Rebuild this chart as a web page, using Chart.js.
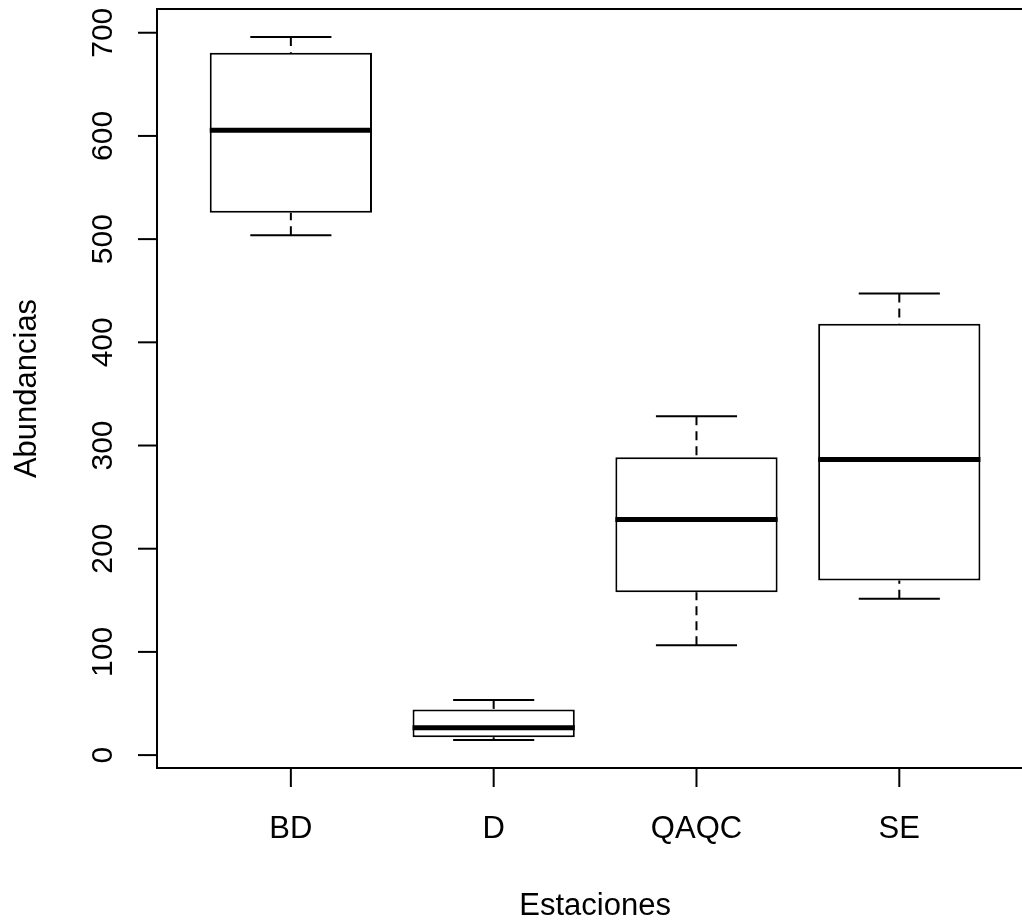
<!DOCTYPE html>
<html><head><meta charset="utf-8">
<script src="https://cdn.jsdelivr.net/npm/chart.js@4/dist/chart.umd.min.js"></script>
<style>html,body{margin:0;padding:0;background:#fff;overflow:hidden}canvas{display:block}</style>
</head><body>
<canvas id="c" width="1022" height="922"></canvas>
<script>
const categories = ['BD', 'D', 'QAQC', 'SE'];
const lowerWhisker = [503.8, 14.7, 106.4, 151.4];
const q1 = [525.5, 17.3, 157.8, 169.1];
const median = [605.6, 26.4, 228.3, 286.4];
const q3 = [680.6, 44.1, 288.6, 418.0];
const upperWhisker = [695.8, 53.5, 328.4, 447.3];
const yTicks = [0, 100, 200, 300, 400, 500, 600, 700];
const xTitle = 'Estaciones';
const yTitle = 'Abundancias';

const FONT_TICK = '30px "Liberation Sans", Arial, sans-serif';
const FONT_LAB = '31px "Liberation Sans", Arial, sans-serif';

const rPlot = {
  id: 'rPlot',
  afterDatasetsDraw(chart) {
    const ctx = chart.ctx, xs = chart.scales.x, ys = chart.scales.y;
    const meta = chart.getDatasetMeta(0);
    ctx.save();
    ctx.strokeStyle = '#000';
    ctx.lineCap = 'butt';
    meta.data.forEach((bar, i) => {
      const cx = xs.getPixelForValue(i + 1);
      const w = bar.width;
      ctx.lineWidth = 2;
      ctx.setLineDash([9, 6]);
      [[upperWhisker[i], q3[i]], [lowerWhisker[i], q1[i]]].forEach(([e, h]) => {
        ctx.beginPath();
        ctx.moveTo(cx, ys.getPixelForValue(e));
        ctx.lineTo(cx, ys.getPixelForValue(h));
        ctx.stroke();
      });
      ctx.setLineDash([]);
      [upperWhisker[i], lowerWhisker[i]].forEach(v => {
        const y = ys.getPixelForValue(v);
        ctx.beginPath();
        ctx.moveTo(cx - w / 4, y);
        ctx.lineTo(cx + w / 4, y);
        ctx.stroke();
      });
      ctx.lineWidth = 5;
      const my = ys.getPixelForValue(median[i]);
      ctx.beginPath();
      ctx.moveTo(cx - w / 2, my);
      ctx.lineTo(cx + w / 2, my);
      ctx.stroke();
    });
    ctx.restore();
  },
  afterDraw(chart) {
    const ctx = chart.ctx, xs = chart.scales.x, ys = chart.scales.y, a = chart.chartArea;
    ctx.save();
    ctx.strokeStyle = '#000';
    ctx.fillStyle = '#000';
    ctx.lineWidth = 2;
    ctx.beginPath();
    ctx.moveTo(a.right + 5, a.top);
    ctx.lineTo(a.left, a.top);
    ctx.lineTo(a.left, a.bottom);
    ctx.lineTo(a.right + 5, a.bottom);
    ctx.stroke();
    ctx.font = FONT_TICK;
    ctx.textAlign = 'center';
    ctx.textBaseline = 'alphabetic';
    yTicks.forEach(v => {
      const y = ys.getPixelForValue(v);
      ctx.beginPath();
      ctx.moveTo(a.left - 19, y);
      ctx.lineTo(a.left, y);
      ctx.stroke();
      ctx.save();
      ctx.translate(112, y);
      ctx.rotate(-Math.PI / 2);
      ctx.fillText(String(v), 0, 0);
      ctx.restore();
    });
    ctx.font = FONT_LAB;
    categories.forEach((c, i) => {
      const x = xs.getPixelForValue(i + 1);
      ctx.beginPath();
      ctx.moveTo(x, a.bottom);
      ctx.lineTo(x, a.bottom + 19);
      ctx.stroke();
      ctx.fillText(c, x, 838);
    });
    ctx.fillText(xTitle, xs.getPixelForValue(2.5), 915);
    ctx.save();
    ctx.translate(36, (a.top + a.bottom) / 2);
    ctx.rotate(-Math.PI / 2);
    ctx.fillText(yTitle, 0, 0);
    ctx.restore();
    ctx.restore();
  }
};

new Chart(document.getElementById('c'), {
  type: 'bar',
  data: {
    datasets: [{
      data: categories.map((c, i) => ({ x: i + 1, y: [q1[i], q3[i]] })),
      backgroundColor: '#fff',
      borderColor: '#000',
      borderWidth: 2,
      borderSkipped: false,
      barPercentage: 0.8,
      categoryPercentage: 1
    }]
  },
  options: {
    responsive: false,
    animation: false,
    events: [],
    layout: { padding: { top: 9, left: 0, right: 0, bottom: 0 } },
    plugins: { legend: { display: false }, tooltip: { enabled: false }, title: { display: false } },
    scales: {
      x: {
        type: 'linear', min: 0.34, max: 4.605, offset: false,
        grid: { display: false, offset: false }, border: { display: false }, ticks: { display: false },
        afterBuildTicks: s => { s.ticks = categories.map((c, i) => ({ value: i + 1 })); },
        afterFit: s => { s.height = 154; }
      },
      y: {
        type: 'linear', min: -12.5, max: 723,
        grid: { display: false }, border: { display: false }, ticks: { display: false },
        afterBuildTicks: s => { s.ticks = yTicks.map(v => ({ value: v })); },
        afterFit: s => { s.width = 157; }
      }
    }
  },
  plugins: [rPlot]
});
</script>
</body></html>
